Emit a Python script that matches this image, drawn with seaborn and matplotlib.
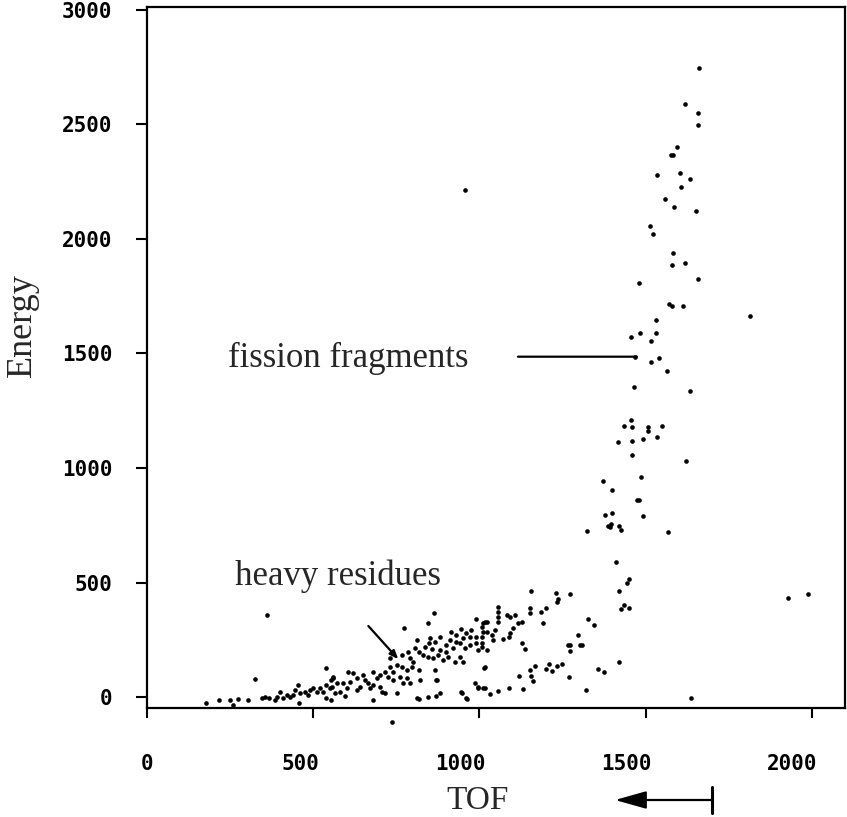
import numpy as np
import pandas as pd
import matplotlib
matplotlib.use("Agg")
import matplotlib.pyplot as plt
import seaborn as sns
from matplotlib import transforms

# ---------------- data ----------------
residue_tof = [325, 179, 216, 250, 260, 275, 303, 345, 355, 368, 390, 400, 385, 410, 420,
               430, 445, 455, 440, 460, 475, 485, 490, 500, 510, 520, 530, 540, 550, 555,
               540, 560, 458, 540, 555,
               864, 844, 773, 989, 1018, 1007, 813, 851, 849, 866, 883, 916, 931, 946, 961,
               976, 991, 991, 996, 901, 921, 941, 956, 971, 819, 831, 846, 861, 876, 891,
               906, 926, 941, 951, 791, 801, 766, 781, 796, 819, 731, 741, 751, 716, 701,
               726, 741, 761, 781, 791, 771, 821, 871, 681, 691, 681, 701, 706, 716, 651,
               656, 666, 671, 641, 631, 606, 621, 631, 611, 591, 601, 581, 561, 571, 556,
               566, 596, 681, 866, 869,
               731, 766, 786, 806, 836, 856, 881, 901, 911, 931, 951, 971, 1007, 1022, 1007,
               1022,
               1155, 1232, 1235, 1238, 1272, 1152, 1152, 1184, 1200, 1190, 1127, 1117, 1082,
               1092, 1107, 1102, 1092, 1090, 1057, 1057, 1057, 1057, 1022, 1012, 1047, 1037,
               1042, 1012, 1007, 1072, 1127, 1137]
residue_energy = [79, -26, -13, -13, -35, -10, -13, -6, -1, -6, -1, 23, -13, -6, 9,
                  -1, 31, 52, 9, 16, 23, 9, 31, 38, 23, 38, 23, 52, 38, 74,
                  125, 89, -28, -6, -13,
                  367, 323, 300, 341, 326, 307, 248, 256, 237, 241, 263, 283, 271, 296, 281,
                  293, 263, 234, 205, 227, 213, 234, 213, 227, 198, 183, 176, 169, 183, 162,
                  176, 154, 176, 154, 169, 154, 132, 118, 132, 118, 132, 110, 140, 110, 96,
                  88, 74, 88, 81, 60, 60, 74, 74, 110, 81, 52, 45, 23, 16, 96,
                  74, 60, 38, 45, 31, 110, 103, 81, 67, 60, 38, 23, 81, 60, 45,
                  16, 4, -13, 118, 74,
                  169, 183, 198, 213, 220, 208, 205, 198, 249, 241, 256, 263, 263, 285, 220,
                  205,
                  464, 455, 415, 429, 448, 387, 365, 372, 387, 322, 329, 322, 358,
                  351, 358, 300, 278, 263, 394, 373, 351, 329, 329, 322, 293, 271,
                  249, 285, 234, 253, 234, 210]

lowband_tof = [1328, 1345, 1297, 1267, 1274, 1302, 1309, 1274, 1167, 1152, 1155, 1162, 1210,
               1199, 1217, 1234, 1249, 1120, 1090, 1132, 1270, 1322, 1357, 1375, 1421, 1014,
               1012, 1032, 1057, 962, 949, 986, 997, 959, 946, 996, 1016, 1016, 811, 819,
               846, 869, 881, 751]
lowband_energy = [339, 314, 271, 227, 227, 227, 227, 201, 137, 118, 93, 71, 144,
                  122, 114, 137, 145, 92, 41, 35, 86, 29, 122, 110, 154, 128,
                  38, 12, 26, -10, 19, 60, 42, -6, 23, 38, 38, 130, -6, -9,
                  -1, 4, 16, 16]

fission_tof = [1661, 1619, 1657, 1657, 1595, 1575, 1583, 1533, 1605, 1633, 1608, 1559, 1585,
               1653, 1514, 1521, 1583, 1580, 1620, 1481, 1657, 1571, 1581, 1614, 1531, 1456,
               1484, 1531, 1515, 1515, 1540, 1565, 1466, 1633, 1456, 1436, 1459, 1508, 1508,
               1548, 1533, 1493, 1458, 1418, 1458, 1623, 1487, 1372, 1398, 1480, 1473, 1493,
               1378, 1400, 1387, 1397, 1392, 1419, 1425, 1324, 1568, 1411, 1451, 1445, 1421,
               1435, 1451, 1425, 1468]
fission_energy = [2747, 2590, 2552, 2499, 2400, 2367, 2367, 2279, 2290, 2262, 2228, 2173, 2140,
                  2121, 2058, 2020, 1937, 1885, 1894, 1808, 1824, 1715, 1707, 1707, 1646, 1573,
                  1591, 1591, 1553, 1463, 1480, 1425, 1355, 1335, 1210, 1182, 1180, 1180, 1163,
                  1183, 1135, 1127, 1119, 1112, 1055, 1029, 959, 945, 903, 862, 862, 790,
                  793, 802, 747, 755, 741, 748, 731, 724, 721, 591, 515, 497, 463,
                  402, 387, 383, 1486]

stray_tof = [1814, 956, 1928, 1988, 1636, 360, 736]
stray_energy = [1664, 2214, 432, 450, -5, 359, -110]

x_ticks = [0, 500, 1000, 1500, 2000]
y_ticks = [0, 500, 1000, 1500, 2000, 2500, 3000]
x_tick_labels = ["0", "500", "1000", "1500", "2000"]
y_tick_labels = ["0", "500", "1000", "1500", "2000", "2500", "3000"]

label_fission = "fission fragments"
label_residues = "heavy residues"
fission_text_pos = (244, 1442)
fission_line = ((1116, 1486), (1474, 1486))
residues_text_pos = (265, 489)
residues_arrow = ((666, 310), (756, 165))

# ---------------- figure ----------------
sns.set_style("ticks")
plt.rcParams["font.family"] = ["DejaVu Sans"]

W, H = 847, 817
fig = plt.figure(figsize=(W / 100, H / 100), dpi=100)
ax = fig.add_axes([147 / W, 1 - 708 / H, (845 - 147) / W, (708 - 7) / H])

df = pd.concat([
    pd.DataFrame({"TOF": residue_tof, "Energy": residue_energy, "group": "residues"}),
    pd.DataFrame({"TOF": lowband_tof, "Energy": lowband_energy, "group": "low"}),
    pd.DataFrame({"TOF": fission_tof, "Energy": fission_energy, "group": "fission"}),
    pd.DataFrame({"TOF": stray_tof, "Energy": stray_energy, "group": "stray"}),
], ignore_index=True)

sns.scatterplot(data=df, x="TOF", y="Energy", color="black", s=11, linewidth=0,
                marker="o", legend=False, ax=ax, clip_on=False)

ax.set_xlim(0, 2100)
ax.set_ylim(-48, 3013)
ax.set_xlabel("")
ax.set_ylabel("")

for sp in ax.spines.values():
    sp.set_visible(True)
    sp.set_linewidth(1.6)
    sp.set_color("black")

tick_font = dict(family="DejaVu Sans Mono", weight="bold", size=15)
ax.set_xticks(x_ticks)
ax.set_xticklabels(x_tick_labels, fontdict=tick_font)
ax.set_yticks(y_ticks)
ax.set_yticklabels(y_tick_labels, fontdict=tick_font)
ax.tick_params(axis="x", direction="out", length=7, width=1.5, pad=26, colors="black")
ax.tick_params(axis="y", direction="out", length=8, width=1.5, pad=17, colors="black")

offset = transforms.ScaledTranslation(6 / 100, 0, fig.dpi_scale_trans)
for lab in ax.get_xticklabels():
    lab.set_horizontalalignment("right")
    lab.set_transform(lab.get_transform() + offset)

serif = "Liberation Serif"
# axis titles
fig.text(22 / W, 1 - 325 / H, "Energy", rotation=90, ha="center", va="center",
         family=serif, fontsize=26)
fig.text(478 / W, 1 - 809 / H, "TOF", ha="center", va="baseline",
         family=serif, fontsize=24)

# annotations
ax.text(*fission_text_pos, label_fission, family=serif, fontsize=25,
        ha="left", va="baseline")
ax.annotate("", xy=fission_line[1], xytext=fission_line[0],
            arrowprops=dict(arrowstyle="-", lw=1.6, color="black", shrinkA=0, shrinkB=0))
ax.text(*residues_text_pos, label_residues, family=serif, fontsize=25,
        ha="left", va="baseline")
ax.annotate("", xy=residues_arrow[1], xytext=residues_arrow[0],
            arrowprops=dict(arrowstyle="-|>,head_length=0.5,head_width=0.2", lw=1.6,
                            color="black", shrinkA=0, shrinkB=0))

# direction arrow under TOF axis
fig.add_artist(matplotlib.patches.FancyArrowPatch(
    (712 / W, 1 - 800 / H), (615 / W, 1 - 800 / H), transform=fig.transFigure,
    arrowstyle="-|>,head_length=1.6,head_width=0.45", mutation_scale=12,
    lw=1.6, color="black", shrinkA=0, shrinkB=0))
fig.add_artist(matplotlib.lines.Line2D([712 / W, 712 / W], [1 - 787 / H, 1 - 813 / H],
                                       transform=fig.transFigure, lw=2.2, color="black"))

fig.savefig("out.png", dpi=100, facecolor="white")
